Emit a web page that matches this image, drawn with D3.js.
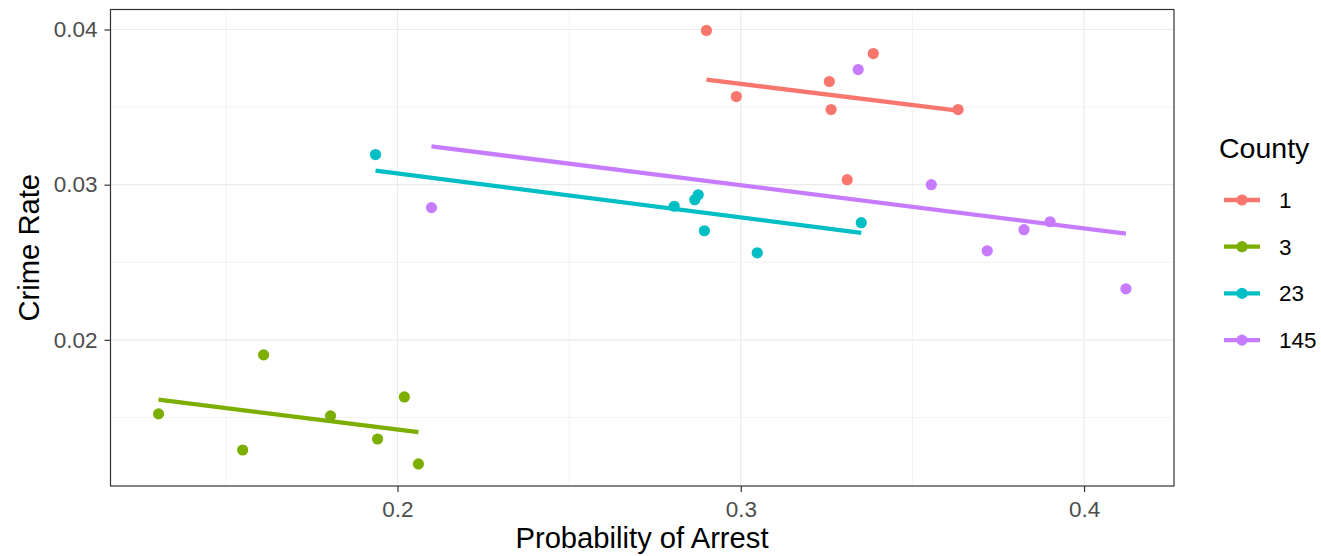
<!DOCTYPE html>
<html><head><meta charset="utf-8">
<script src="https://cdn.jsdelivr.net/npm/d3@7"></script>
<style>body{margin:0;background:#fff}svg{display:block;font-family:"Liberation Sans",Arial,sans-serif}</style>
</head><body>
<svg id="c" width="1321" height="556"></svg>
<script>
const counties = ["1","3","23","145"];
const colors = ["#F8766D","#7CAE00","#00BFC4","#C77CFF"];
// points: probability of arrest (x) and crime rate (y), per county
const arrest1 = [0.2900,0.2987,0.3258,0.3263,0.3386,0.3310,0.3633];
const crime1  = [0.03994,0.03568,0.03665,0.03484,0.03845,0.03032,0.03484];
const arrest3 = [0.1304,0.1549,0.1610,0.1805,0.1942,0.2020,0.2061];
const crime3  = [0.01523,0.01290,0.01903,0.01510,0.01361,0.01632,0.01200];
const arrest23 = [0.1936,0.2806,0.2866,0.2876,0.2894,0.3048,0.3351];
const crime23  = [0.03194,0.02861,0.02903,0.02935,0.02703,0.02561,0.02755];
const arrest145 = [0.2099,0.3342,0.3555,0.3718,0.3825,0.3901,0.4122];
const crime145  = [0.02852,0.03742,0.03000,0.02574,0.02710,0.02761,0.02329];
// fitted values at the ends of each county's range
const fitX = [[0.2900,0.3633],[0.1304,0.2061],[0.1936,0.3351],[0.2099,0.4122]];
const fitY = [[0.03677,0.03477],[0.01615,0.01405],[0.03090,0.02690],[0.03247,0.02684]];
const xTicks = [0.2,0.3,0.4];
const yTicks = [0.02,0.03,0.04];
const xMinor = [0.15,0.25,0.35];
const yMinor = [0.015,0.025,0.035];

const arrests=[arrest1,arrest3,arrest23,arrest145], crimes=[crime1,crime3,crime23,crime145];
const L=110.5, R=1174, T=9.5, B=486;
const svg=d3.select("#c");
const x=d3.scaleLinear().domain([0.1164,0.4262]).range([L,R]);
const y=d3.scaleLinear().domain([0.01058,0.04129]).range([B,T]);

const g=svg.append("g");
g.selectAll(".gxm").data(xMinor).join("line").attr("x1",d=>x(d)).attr("x2",d=>x(d)).attr("y1",T).attr("y2",B).attr("stroke","#EBEBEB").attr("stroke-width",0.6);
g.selectAll(".gym").data(yMinor).join("line").attr("y1",d=>y(d)).attr("y2",d=>y(d)).attr("x1",L).attr("x2",R).attr("stroke","#EBEBEB").attr("stroke-width",0.6);
g.selectAll(".gx").data(xTicks).join("line").attr("x1",d=>x(d)).attr("x2",d=>x(d)).attr("y1",T).attr("y2",B).attr("stroke","#EBEBEB").attr("stroke-width",1.2);
g.selectAll(".gy").data(yTicks).join("line").attr("y1",d=>y(d)).attr("y2",d=>y(d)).attr("x1",L).attr("x2",R).attr("stroke","#EBEBEB").attr("stroke-width",1.2);

counties.forEach((c,i)=>{
  const pts=arrests[i].map((a,j)=>[a,crimes[i][j]]);
  svg.append("g").selectAll("circle").data(pts).join("circle")
    .attr("cx",d=>x(d[0])).attr("cy",d=>y(d[1])).attr("r",5.6).attr("fill",colors[i]);
});
counties.forEach((c,i)=>{
  svg.append("line").attr("x1",x(fitX[i][0])).attr("x2",x(fitX[i][1]))
    .attr("y1",y(fitY[i][0])).attr("y2",y(fitY[i][1]))
    .attr("stroke",colors[i]).attr("stroke-width",4.3);
});

svg.append("rect").attr("x",L).attr("y",T).attr("width",R-L).attr("height",B-T).attr("fill","none").attr("stroke","#333").attr("stroke-width",1.2);

const xa=svg.append("g").attr("transform",`translate(0,${B})`).call(d3.axisBottom(x).tickValues(xTicks).tickFormat(d3.format(".1f")).tickSize(6).tickPadding(7));
const ya=svg.append("g").attr("transform",`translate(${L},0)`).call(d3.axisLeft(y).tickValues(yTicks).tickFormat(d3.format(".2f")).tickSize(6).tickPadding(7));
[xa,ya].forEach(a=>{a.select(".domain").remove();a.selectAll(".tick line").attr("stroke","#333").attr("stroke-width",1.2);
  a.selectAll("text").attr("fill","#4D4D4D").style("font-size","22.5px").style("font-family","Liberation Sans, Arial, sans-serif");});
xa.selectAll("text").attr("y",31).attr("dy",0);

svg.append("text").attr("x",642).attr("y",548).attr("text-anchor","middle").style("font-size","29.2px").text("Probability of Arrest");
svg.append("text").attr("transform",`translate(39,${(T+B)/2}) rotate(-90)`).attr("text-anchor","middle").style("font-size","29.2px").text("Crime Rate");

const lg=svg.append("g");
lg.append("text").attr("x",1219).attr("y",158).style("font-size","28.5px").text("County");
counties.forEach((c,i)=>{
  const yy=200+i*46.7;
  lg.append("line").attr("x1",1224).attr("x2",1260).attr("y1",yy).attr("y2",yy).attr("stroke",colors[i]).attr("stroke-width",4.3);
  lg.append("circle").attr("cx",1242).attr("cy",yy).attr("r",5.6).attr("fill",colors[i]);
  lg.append("text").attr("x",1279).attr("y",yy+8).style("font-size","22.5px").text(c);
});
</script>
</body></html>
